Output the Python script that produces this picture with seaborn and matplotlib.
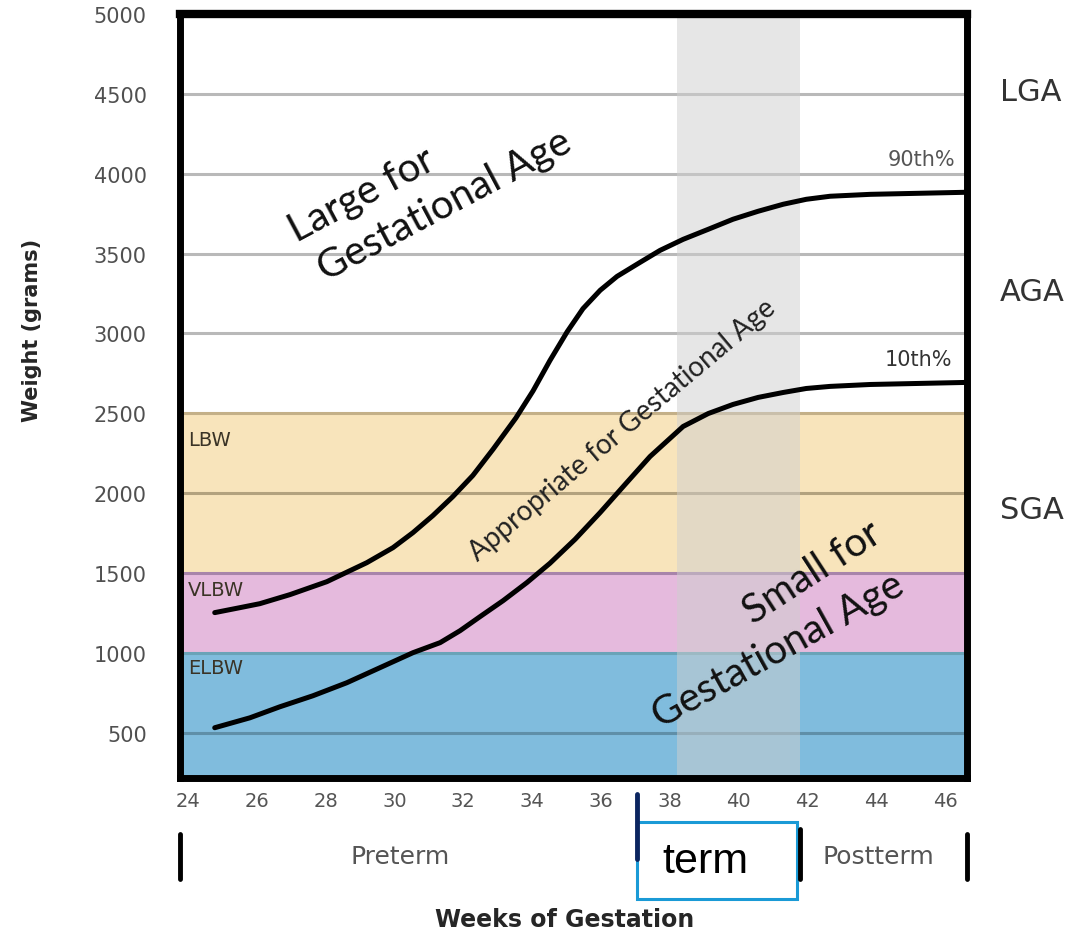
import matplotlib
matplotlib.use("Agg")
import matplotlib.pyplot as plt
from matplotlib.patches import Rectangle
from matplotlib.lines import Line2D
import seaborn as sns
import pandas as pd

# ---------------- data ----------------
weeks_90 = [24.78, 25.51, 26.09, 26.97, 28.04, 29.20, 29.96, 30.54, 31.12, 31.70, 32.28,
            32.87, 33.53, 34.03, 34.52, 35.02, 35.48, 35.98, 36.47, 37.14, 37.72, 38.39,
            39.12, 39.84, 40.57, 41.30, 41.97, 42.66, 43.83, 46.64]
weight_90 = [1251, 1282, 1307, 1364, 1445, 1564, 1658, 1752, 1859, 1978, 2110,
             2275, 2470, 2640, 2830, 3010, 3155, 3270, 3357, 3445, 3520, 3589,
             3652, 3715, 3765, 3809, 3840, 3859, 3871, 3884]

weeks_10 = [24.78, 25.80, 26.67, 27.63, 28.62, 29.58, 30.54, 31.33, 31.91, 32.49, 33.16,
            33.85, 34.52, 35.25, 35.98, 36.70, 37.43, 38.39, 39.12, 39.84, 40.57, 41.30,
            41.97, 42.66, 43.83, 46.64]
weight_10 = [530, 592, 661, 730, 812, 906, 1000, 1063, 1138, 1226, 1326,
             1439, 1560, 1710, 1878, 2053, 2229, 2417, 2498, 2555, 2599, 2630,
             2655, 2668, 2680, 2693]

x_ticks = [24, 26, 28, 30, 32, 34, 36, 38, 40, 42, 44, 46]
y_ticks = [500, 1000, 1500, 2000, 2500, 3000, 3500, 4000, 4500, 5000]

band_names = ["ELBW", "VLBW", "LBW"]
band_low = [0, 1000, 1500]
band_high = [1000, 1500, 2500]
band_colors = ["#80bcdd", "#e5badd", "#f8e4bb"]
band_edges = ["#6aa3b8", "#a884aa", "#c4b088"]

term_start, term_end = 38.2, 41.8

# ---------------- figure ----------------
sns.set_theme(style="white")
plt.rcParams["font.family"] = ["DejaVu Sans"]
BIG = ["Lato", "DejaVu Sans"]

fig = plt.figure(figsize=(10.77, 9.37), dpi=100)
ax = fig.add_axes([0.1671, 0.1686, 0.7308, 0.8153])
ax.set_xlim(23.77, 46.64)
ax.set_ylim(215, 5000)

# weight bands
for lo, hi, c, e in zip(band_low, band_high, band_colors, band_edges):
    ax.axhspan(lo, hi, color=c, zorder=0, lw=0)
    ax.axhline(hi, color=e, lw=2.2, zorder=1)

# grid lines
for yv in y_ticks:
    if yv in band_high:
        continue
    if yv == 2000:
        col = "#b3a27e"
    elif yv == 500:
        col = "#5f8fa8"
    else:
        col = "#b9b9b9"
    ax.axhline(yv, color=col, lw=2.2, zorder=1)

# term shading
ax.axvspan(term_start, term_end, color="#cfcfcf", alpha=0.5, lw=0, zorder=2)

# percentile curves
df90 = pd.DataFrame({"week": weeks_90, "weight": weight_90})
df10 = pd.DataFrame({"week": weeks_10, "weight": weight_10})
sns.lineplot(data=df90, x="week", y="weight", color="black", lw=3.6, ax=ax, zorder=5, sort=False)
sns.lineplot(data=df10, x="week", y="weight", color="black", lw=3.6, ax=ax, zorder=5, sort=False)

# axes styling
for s in ax.spines.values():
    s.set_visible(True)
    s.set_color("black")
    s.set_linewidth(5)
    s.set_zorder(10)
ax.spines["top"].set_linewidth(6)

ax.set_xticks(x_ticks)
ax.set_xticklabels([str(v) for v in x_ticks], fontsize=14, color="#555555")
ax.set_yticks(y_ticks)
ax.set_yticklabels([str(v) for v in y_ticks], fontsize=15, color="#505050")
ax.tick_params(axis="y", length=0, pad=24)
ax.tick_params(axis="x", length=0, pad=9)
ax.set_xlabel("")
ax.set_ylabel("")

# band labels
for name, yv in zip(["LBW", "VLBW", "ELBW"], [2335, 1395, 906]):
    ax.text(24.0, yv, name, fontsize=14, color="#3a3326", ha="left", va="center", zorder=6)

# percentile labels
ax.text(46.3, 4091, "90th%", fontsize=15, color="#555555", ha="right", va="center", zorder=6)
ax.text(46.2, 2837, "10th%", fontsize=15, color="#333333", ha="right", va="center", zorder=6)

# big diagonal labels
ax.text(29.06, 3871, "Large for", fontsize=29, rotation=28, rotation_mode="anchor",
        ha="center", va="center", color="#111111", zorder=6, family=BIG)
ax.text(31.47, 3809, "Gestational Age", fontsize=29, rotation=28, rotation_mode="anchor",
        ha="center", va="center", color="#111111", zorder=6, family=BIG)
ax.text(42.14, 1508, "Small for", fontsize=29, rotation=33, rotation_mode="anchor",
        ha="center", va="center", color="#111111", zorder=6, family=BIG)
ax.text(41.15, 1019, "Gestational Age", fontsize=29, rotation=29, rotation_mode="anchor",
        ha="center", va="center", color="#111111", zorder=6, family=BIG)
ax.text(36.62, 2398, "Appropriate for Gestational Age", fontsize=20, rotation=40,
        rotation_mode="anchor", ha="center", va="center", color="#222222", zorder=6, family=BIG)

# right side category labels
for lab, yf in zip(["LGA", "AGA", "SGA"], [0.9018, 0.6873, 0.4557]):
    fig.text(0.9285, yf, lab, fontsize=22, color="#333333", ha="left", va="center")

# axis titles
fig.text(0.5246, 0.0182, "Weeks of Gestation", fontsize=17, fontweight="bold", ha="center", va="center")
fig.text(0.0297, 0.6478, "Weight (grams)", fontsize=15, fontweight="bold", rotation=90,
         ha="center", va="center")

# period labels under the axis
fig.text(0.3714, 0.0854, "Preterm", fontsize=18, color="#555555", ha="center", va="center")
fig.text(0.8152, 0.0854, "Postterm", fontsize=18, color="#555555", ha="center", va="center")

W, H = 1077.0, 937.0
def vbar(xp, y0, y1, color, lw):
    fig.add_artist(Line2D([xp / W, xp / W], [1 - y0 / H, 1 - y1 / H], color=color, lw=lw,
                          transform=fig.transFigure))

vbar(180, 835, 880, "black", 3.5)
vbar(967, 835, 880, "black", 3.5)
vbar(800, 830, 880, "black", 3.5)
vbar(637, 795, 860, "#0b2560", 3.5)

fig.add_artist(Rectangle((637 / W, 1 - 900 / H), 160 / W, 77 / H, fill=False,
                         edgecolor="#1a9ad6", lw=2.2, transform=fig.transFigure))
fig.text(705 / W, 1 - 862 / H, "term", fontsize=31, family="Liberation Sans",
         color="black", ha="center", va="center")

fig.savefig("out.png", dpi=100)
